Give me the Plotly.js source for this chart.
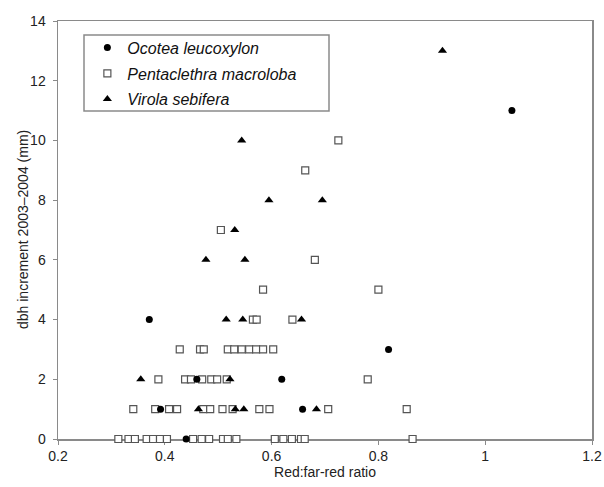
<!DOCTYPE html>
<html>
<head>
<meta charset="utf-8">
<script src="https://cdn.plot.ly/plotly-3.0.1.min.js"></script>
<style>html,body{margin:0;padding:0;background:#fff;}#chart{width:604px;height:487px;}</style>
</head>
<body>
<div id="chart"></div>
<script>
// Ocotea leucoxylon
const ocoteaX = [0.371, 0.819, 0.460, 0.619, 0.392, 0.658, 0.440, 1.05];
const ocoteaY = [4, 3, 2, 2, 1, 1, 0, 11];

// Pentaclethra macroloba
const pentaX = [0.725, 0.663, 0.505, 0.681, 0.584, 0.80,
  0.565, 0.572, 0.639,
  0.428, 0.466, 0.473, 0.518, 0.530, 0.544, 0.558, 0.571, 0.584, 0.603,
  0.388, 0.438, 0.449, 0.470, 0.487, 0.498, 0.516, 0.780,
  0.341, 0.382, 0.408, 0.423, 0.472, 0.485, 0.508, 0.527, 0.577, 0.596, 0.706, 0.853,
  0.313, 0.332, 0.344, 0.366, 0.378, 0.391, 0.404, 0.453, 0.469, 0.483, 0.509, 0.518, 0.534,
  0.606, 0.622, 0.638, 0.655, 0.662, 0.864];
const pentaY = [10, 9, 7, 6, 5, 5,
  4, 4, 4,
  3, 3, 3, 3, 3, 3, 3, 3, 3, 3,
  2, 2, 2, 2, 2, 2, 2, 2,
  1, 1, 1, 1, 1, 1, 1, 1, 1, 1, 1, 1,
  0, 0, 0, 0, 0, 0, 0, 0, 0, 0, 0, 0, 0,
  0, 0, 0, 0, 0, 0];

// Virola sebifera
const virolaX = [0.92, 0.544, 0.595, 0.695, 0.531, 0.477, 0.550, 0.515, 0.546, 0.656, 0.355, 0.522, 0.463, 0.532, 0.548, 0.684];
const virolaY = [13, 10, 8, 8, 7, 6, 6, 4, 4, 4, 2, 2, 1, 1, 1, 1];

const xTickVals = [0.2, 0.4, 0.6, 0.8, 1, 1.2];
const yTickVals = [0, 2, 4, 6, 8, 10, 12, 14];

const traces = [
  {x: pentaX, y: pentaY, name: 'Pentaclethra macroloba', type: 'scatter', mode: 'markers', cliponaxis: false,
   legendrank: 2, legendgroup: 'b',
   marker: {symbol: 'square', size: 7, color: '#ffffff', line: {color: '#555555', width: 1.2}}},
  {x: ocoteaX, y: ocoteaY, name: 'Ocotea leucoxylon', type: 'scatter', mode: 'markers', cliponaxis: false,
   legendrank: 1, legendgroup: 'a',
   marker: {symbol: 'circle', size: 7, color: '#000000'}},
  {x: virolaX, y: virolaY, name: 'Virola sebifera', type: 'scatter', mode: 'markers', cliponaxis: false,
   legendrank: 3, legendgroup: 'c',
   marker: {symbol: 'triangle-up', size: 8, color: '#000000'}}
];

const axisCommon = {
  showline: true, linecolor: '#8a8a8a', linewidth: 1.5, mirror: true,
  showgrid: false, zeroline: false, ticks: 'outside', ticklen: 4, tickcolor: '#8a8a8a', tickwidth: 1,
  tickfont: {family: 'Liberation Sans, Arial, sans-serif', size: 14, color: '#222'},
  layer: 'below traces'
};

const layout = {
  width: 604, height: 487,
  margin: {l: 58, r: 12, t: 21, b: 48},
  paper_bgcolor: '#fff', plot_bgcolor: '#fff',
  font: {family: 'Liberation Sans, Arial, sans-serif', color: '#222'},
  showlegend: true,
  xaxis: Object.assign({}, axisCommon, {
    range: [0.2, 1.2], tickvals: xTickVals,
    title: {text: 'Red:far-red ratio', font: {size: 14, color: '#222'}, standoff: 4}
  }),
  yaxis: Object.assign({}, axisCommon, {
    range: [0, 14], tickvals: yTickVals, ticklabelstandoff: 4
  }),
  annotations: [{
    text: 'dbh increment 2003–2004 (mm)', xref: 'paper', yref: 'paper',
    x: (23 - 58) / 534, y: 0.5, xanchor: 'center', yanchor: 'middle',
    textangle: -90, showarrow: false,
    font: {family: 'Liberation Sans, Arial, sans-serif', size: 14, color: '#222'}
  }],
  legend: {
    x: 0.055, y: 0.977, xanchor: 'left', yanchor: 'top',
    bgcolor: 'rgba(0,0,0,0)', borderwidth: 0,
    traceorder: 'grouped', tracegroupgap: 2,
    font: {family: 'Liberation Sans, Arial, sans-serif', size: 16, color: '#111', style: 'italic'}
  },
  shapes: [{
    type: 'rect', xref: 'paper', yref: 'paper',
    x0: (84 - 58) / 534, x1: (329 - 58) / 534,
    y0: (439 - 111) / 418, y1: (439 - 35) / 418,
    line: {color: '#8a8a8a', width: 1.5}, fillcolor: 'rgba(0,0,0,0)'
  }]
};

Plotly.newPlot('chart', traces, layout, {staticPlot: true, displayModeBar: false});
</script>
</body>
</html>
